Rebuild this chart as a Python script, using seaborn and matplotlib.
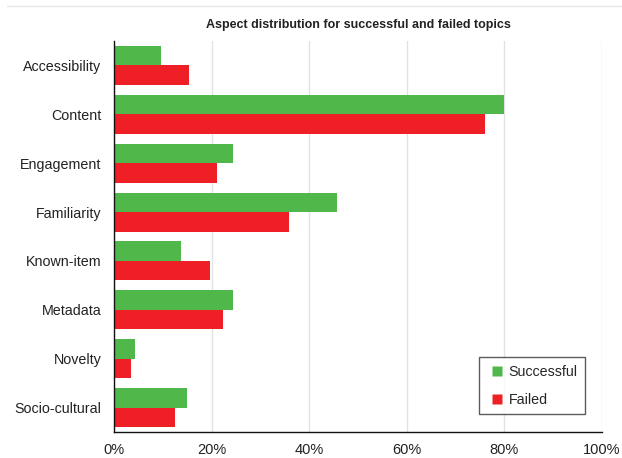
import matplotlib
matplotlib.use("Agg")
import matplotlib.pyplot as plt
import seaborn as sns
import pandas as pd
from matplotlib.lines import Line2D

categories = ["Accessibility", "Content", "Engagement", "Familiarity",
              "Known-item", "Metadata", "Novelty", "Socio-cultural"]
successful = [9.6, 79.9, 24.4, 45.6, 13.8, 24.4, 4.3, 14.9]
failed = [15.4, 76.0, 21.2, 35.8, 19.6, 22.4, 3.4, 12.5]
series = ["Successful", "Failed"]
xticks = [0, 20, 40, 60, 80, 100]
xticklabels = ["0%", "20%", "40%", "60%", "80%", "100%"]
colors = ["#50b84b", "#ee2026"]

df = pd.DataFrame({
    "Aspect": categories * 2,
    "Value": successful + failed,
    "Series": [series[0]] * len(categories) + [series[1]] * len(categories),
})

sns.set_style("white")
plt.rcParams["font.family"] = ["Liberation Sans", "DejaVu Sans"]

fig = plt.figure(figsize=(6.22, 4.58), dpi=100)
ax = fig.add_axes([114 / 622, 1 - 432 / 458, (602 - 114) / 622, (432 - 41) / 458])

sns.barplot(data=df, y="Aspect", x="Value", hue="Series", order=categories,
            hue_order=series, palette=colors, orient="h", width=0.8,
            ax=ax, legend=False, saturation=1, edgecolor="none")

ax.set_xlim(0, 100)
ax.set_ylim(len(categories) - 0.5, -0.5)
ax.set_xticks(xticks)
ax.set_xticklabels(xticklabels, fontsize=10.5, color="#222222")
ax.tick_params(axis="y", labelsize=10.3, colors="#222222", length=0, pad=9)
ax.tick_params(axis="x", length=0, pad=8)
ax.set_xlabel("")
ax.set_ylabel("")
ax.xaxis.grid(True, color="#e2e2e2", linewidth=1)
ax.set_axisbelow(True)
for s in ["top", "right"]:
    ax.spines[s].set_visible(False)
ax.spines["left"].set_color("#111111")
ax.spines["bottom"].set_color("#111111")
ax.spines["left"].set_linewidth(1)
ax.spines["bottom"].set_linewidth(1)

fig.text(358 / 622, 1 - 25 / 458, "Aspect distribution for successful and failed topics",
         ha="center", va="center", fontsize=9, fontweight="bold", color="#222222")
fig.add_artist(Line2D([7 / 622, 1], [1 - 6 / 458, 1 - 6 / 458], color="#e6e6e6",
                      linewidth=1, transform=fig.transFigure))

handles = [Line2D([], [], marker="s", linestyle="none", markersize=6.5,
                  markerfacecolor=c, markeredgecolor="none") for c in colors]
leg = ax.legend(handles, series, loc="lower right", bbox_to_anchor=(0.965, 0.046),
                fontsize=10.3, frameon=True, fancybox=False, edgecolor="#333333",
                handletextpad=0.05, labelspacing=1.0, borderpad=0.5,
                handlelength=1.5, borderaxespad=0)
leg.get_frame().set_linewidth(1)

fig.savefig("out.png", dpi=100, facecolor="white")
